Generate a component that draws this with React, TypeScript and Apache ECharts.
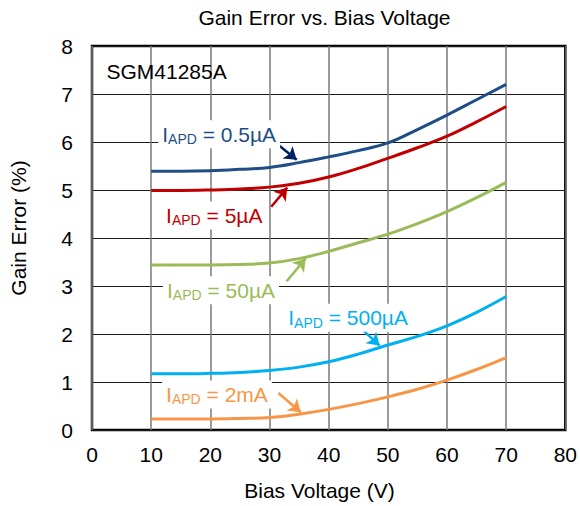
import React, { useEffect, useRef } from "react";
import * as echarts from "echarts";

const FONT = "'Liberation Sans', Arial, Helvetica, sans-serif";

const titleText = "Gain Error vs. Bias Voltage";
const xAxisName = "Bias Voltage (V)";
const yAxisName = "Gain Error (%)";
const partName = "SGM41285A";

const xValues = [10, 15, 20, 25, 30, 35, 40, 45, 50, 55, 60, 65, 70];
const series05uA = [5.39, 5.39, 5.4, 5.43, 5.47, 5.57, 5.69, 5.82, 5.98, 6.26, 6.56, 6.88, 7.2];
const series5uA = [4.99, 4.99, 5.0, 5.02, 5.06, 5.14, 5.27, 5.45, 5.66, 5.88, 6.12, 6.42, 6.74];
const series50uA = [3.44, 3.44, 3.44, 3.45, 3.48, 3.57, 3.72, 3.9, 4.08, 4.3, 4.55, 4.84, 5.16];
const series500uA = [1.17, 1.17, 1.18, 1.2, 1.24, 1.31, 1.42, 1.58, 1.77, 1.95, 2.17, 2.45, 2.78];
const series2mA = [0.23, 0.23, 0.23, 0.24, 0.26, 0.33, 0.43, 0.55, 0.69, 0.85, 1.04, 1.26, 1.51];

const seriesNames = ["0.5µA", "5µA", "50µA", "500µA", "2mA"];
const seriesColors = ["#1F4E87", "#C00000", "#9BBB59", "#00B0F0", "#F79646"];
const arrowColors = ["#002060", "#C00000", "#9BBB59", "#00B0F0", "#F79646"];
const seriesValues = [series05uA, series5uA, series50uA, series500uA, series2mA];

// label box left/centre positions, in data coordinates
const labelPos: [number, number][] = [
  [11.2, 6.16],
  [11.85, 4.47],
  [12.0, 2.91],
  [32.5, 2.34],
  [11.85, 0.74],
];
// arrow start / end, in data coordinates
const arrowFrom: [number, number][] = [
  [31.3, 5.96],
  [30.3, 4.65],
  [32.9, 3.1],
  [45.6, 2.1],
  [31.5, 0.77],
];
const arrowTo: [number, number][] = [
  [34.6, 5.63],
  [33.0, 5.05],
  [36.1, 3.57],
  [48.6, 1.76],
  [35.3, 0.37],
];
const partPos: [number, number] = [2.45, 7.46];

export default function App() {
  const ref = useRef<HTMLDivElement>(null);
  useEffect(() => {
    if (!ref.current) return;
    const chart = echarts.init(ref.current, undefined, { renderer: "svg" });
    const series = seriesValues.map((vals, i) => ({
      type: "line",
      name: seriesNames[i],
      data: xValues.map((x, j) => [x, vals[j]]),
      smooth: 0.4,
      showSymbol: false,
      symbol: "none",
      lineStyle: { color: seriesColors[i], width: 3 },
      itemStyle: { color: seriesColors[i] },
      silent: true,
      z: 5,
      markLine: {
        silent: true,
        symbol: ["none", "arrow"],
        symbolSize: 12,
        label: { show: false },
        lineStyle: { color: arrowColors[i], width: 2.5, type: "solid" },
        data: [[{ coord: arrowFrom[i] }, { coord: arrowTo[i] }]],
      },
    }));
    const option: any = {
      animation: false,
      grid: {
        left: 92,
        right: 13,
        top: 46,
        bottom: 76,
        show: true,
        borderColor: "#000",
        borderWidth: 2.5,
        backgroundColor: "#fff",
      },
      xAxis: {
        type: "value",
        min: 0,
        max: 80,
        interval: 10,
        axisLine: { show: false },
        axisTick: { show: false },
        axisLabel: { color: "#000", fontSize: 21, fontFamily: FONT, margin: 14 },
        splitLine: { show: true, lineStyle: { color: "#7a7a7a", width: 1.5 } },
      },
      yAxis: {
        type: "value",
        min: 0,
        max: 8,
        interval: 1,
        axisLine: { show: false },
        axisTick: { show: false },
        axisLabel: { color: "#000", fontSize: 21, fontFamily: FONT, margin: 19 },
        splitLine: { show: true, lineStyle: { color: "#1a1a1a", width: 1 } },
      },
      series,
    };
    chart.setOption(option);

    const graphics: any[] = [
      {
        type: "text",
        x: 324.5,
        y: 17,
        style: {
          text: titleText,
          fontSize: 21,
          fontFamily: FONT,
          fill: "#000",
          align: "center",
          verticalAlign: "middle",
        },
      },
      {
        type: "text",
        x: 319.5,
        y: 490,
        style: {
          text: xAxisName,
          fontSize: 21,
          fontFamily: FONT,
          fill: "#000",
          align: "center",
          verticalAlign: "middle",
        },
      },
      {
        type: "text",
        x: 18,
        y: 228,
        rotation: Math.PI / 2,
        style: {
          text: yAxisName,
          fontSize: 21,
          fontFamily: FONT,
          fill: "#000",
          align: "center",
          verticalAlign: "middle",
        },
      },
    ];
    const pp = chart.convertToPixel({ gridIndex: 0 }, partPos) as number[];
    graphics.push({
      type: "text",
      x: pp[0],
      y: pp[1],
      z: 50,
      style: {
        text: partName,
        fontSize: 21,
        fontFamily: FONT,
        fill: "#000",
        align: "left",
        verticalAlign: "middle",
      },
    });
    labelPos.forEach((pos, i) => {
      const p = chart.convertToPixel({ gridIndex: 0 }, pos) as number[];
      graphics.push({
        type: "text",
        x: p[0],
        y: p[1],
        z: 50,
        style: {
          text: `{i|I}{s|APD}{t| = ${seriesNames[i]}}`,
          fill: seriesColors[i],
          fontFamily: FONT,
          align: "left",
          verticalAlign: "middle",
          backgroundColor: "#fff",
          padding: [2, 4, 2, 4],
          rich: {
            i: { fontSize: 21, lineHeight: 24, fontFamily: FONT, fill: seriesColors[i] },
            s: {
              fontSize: 14,
              lineHeight: 12,
              verticalAlign: "bottom",
              fontFamily: FONT,
              fill: seriesColors[i],
            },
            t: { fontSize: 21, lineHeight: 24, fontFamily: FONT, fill: seriesColors[i] },
          },
        },
      });
    });
    chart.setOption({ graphic: graphics });
    return () => chart.dispose();
  }, []);
  return (
    <div
      ref={ref}
      style={{ position: "fixed", left: 0, top: 0, width: 580, height: 506, background: "#fff" }}
    />
  );
}
